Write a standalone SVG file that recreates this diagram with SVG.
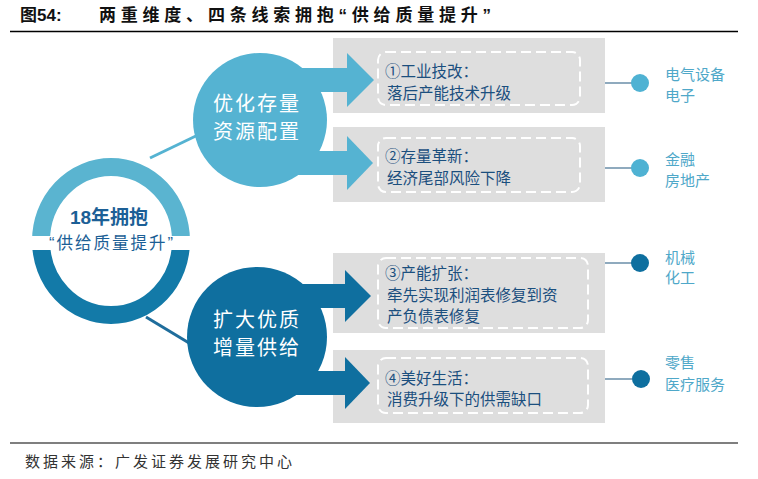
<svg xmlns="http://www.w3.org/2000/svg" width="758" height="479" viewBox="0 0 758 479">
<style>
text{font-family:"Liberation Sans","Noto Sans CJK SC",sans-serif}
.title{font-size:17px;font-weight:bold;fill:#111}
.box{fill:#dedede}
.dash{fill:none;stroke:#fff;stroke-width:2;stroke-dasharray:10 5}
.bt{font-size:15.5px;fill:#1b4f7e;font-family:"Noto Sans CJK SC",sans-serif}
.bub{font-size:20px;letter-spacing:2px;fill:#fff;font-family:"Noto Sans CJK SC",sans-serif}
.lab{font-size:15px;fill:#4fa8c9;font-family:"Noto Sans CJK SC",sans-serif}
.light{fill:#55b3d2}
.dark{fill:#0f6f9f}
.conn{stroke:#6a8ea8;stroke-width:1.5}
</style>
<rect width="758" height="479" fill="#fff"/>
<g id="title">
<text class="title" x="20" y="21">图54:</text>
<text class="title" x="99" y="21" textLength="392" lengthAdjust="spacing">两重维度、四条线索拥抱“供给质量提升”</text>
<line x1="10" y1="31.5" x2="738" y2="31.5" stroke="#000" stroke-width="1.5"/>
</g>
<g id="boxes">
<g id="box1"><rect class="box" x="333" y="38" width="272" height="75"/><rect class="dash" x="378" y="52" width="202" height="53" rx="8"/>
<text class="bt" x="385" y="77">①工业技改：</text><text class="bt" x="387" y="99">落后产能技术升级</text></g>
<g id="box2"><rect class="box" x="333" y="127" width="272" height="75"/><rect class="dash" x="378" y="138" width="202" height="54" rx="8"/>
<text class="bt" x="385" y="162">②存量革新：</text><text class="bt" x="387" y="184">经济尾部风险下降</text></g>
<g id="box3"><rect class="box" x="333" y="253" width="272" height="80"/><rect class="dash" x="378" y="258" width="210" height="70" rx="8"/>
<text class="bt" x="385" y="279">③产能扩张：</text><text class="bt" x="387" y="301">牵先实现利润表修复到资</text><text class="bt" x="387" y="322">产负债表修复</text></g>
<g id="box4"><rect class="box" x="333" y="350" width="272" height="73"/><rect class="dash" x="378" y="358" width="210" height="55" rx="8"/>
<text class="bt" x="385" y="384">④美好生活：</text><text class="bt" x="387" y="405">消费升级下的供需缺口</text></g>
</g>
<g id="connectors">
<line x1="150" y1="158" x2="200" y2="134" stroke="#55b3d2" stroke-width="3"/>
<line x1="146" y1="317" x2="194" y2="346" stroke="#1f6d9c" stroke-width="3"/>
<line class="conn" x1="605" y1="83" x2="632" y2="83"/>
<line class="conn" x1="605" y1="168" x2="632" y2="168"/>
<line class="conn" x1="605" y1="263" x2="632" y2="263"/>
<line class="conn" x1="605" y1="379" x2="632" y2="379"/>
</g>
<g id="center">
<path d="M41,241 A70,74 0 0 1 181,241" fill="none" stroke="#5ab4d0" stroke-width="18"/>
<path d="M181,241 A70,74 0 0 1 41,241" fill="none" stroke="#137aa8" stroke-width="18"/>
<rect x="28" y="236" width="166" height="14" fill="#fff"/>
<text x="109" y="224" text-anchor="middle" font-size="19" font-weight="bold" fill="#1c5f96">18年拥抱</text>
<text x="112" y="249" text-anchor="middle" font-size="16.5" letter-spacing="2" fill="#1c5f96" font-family="Noto Sans CJK SC,sans-serif">“供给质量提升”</text>
</g>
<g id="bubble-top" class="light">
<circle cx="260" cy="120" r="67"/>
<rect x="290" y="68" width="58" height="24"/>
<polygon points="347,53 374,80 347,107"/>
<rect x="290" y="151" width="58" height="24"/>
<polygon points="347,136 373,163 347,190"/>
<text class="bub" x="257" y="111" text-anchor="middle">优化存量</text>
<text class="bub" x="257" y="139" text-anchor="middle">资源配置</text>
</g>
<g id="bubble-bottom" class="dark">
<circle cx="257" cy="337" r="70"/>
<rect x="290" y="284" width="57" height="24"/>
<polygon points="345,270 371,296 345,322"/>
<rect x="290" y="371" width="57" height="24"/>
<polygon points="345,357 370,383 345,409"/>
<text class="bub" x="257" y="327" text-anchor="middle">扩大优质</text>
<text class="bub" x="257" y="355" text-anchor="middle">增量供给</text>
</g>
<g id="ind1"><circle cx="640" cy="83" r="9" fill="#4fb2d3"/><text class="lab" x="665" y="80">电气设备</text><text class="lab" x="665" y="101">电子</text></g>
<g id="ind2"><circle cx="640" cy="168" r="9" fill="#4fb2d3"/><text class="lab" x="665" y="165">金融</text><text class="lab" x="665" y="186">房地产</text></g>
<g id="ind3"><circle cx="640" cy="263" r="9" fill="#0e6f9f"/><text class="lab" x="665" y="263">机械</text><text class="lab" x="665" y="283">化工</text></g>
<g id="ind4"><circle cx="641" cy="379" r="9" fill="#0e6f9f"/><text class="lab" x="665" y="368">零售</text><text class="lab" x="665" y="390">医疗服务</text></g>
<g id="footer">
<line x1="10" y1="443" x2="738" y2="443" stroke="#000" stroke-width="1.2"/>
<text x="25" y="467" font-size="15" letter-spacing="3" fill="#333" font-family="Noto Sans CJK SC,sans-serif">数据来源：广发证券发展研究中心</text>
</g>
</svg>
